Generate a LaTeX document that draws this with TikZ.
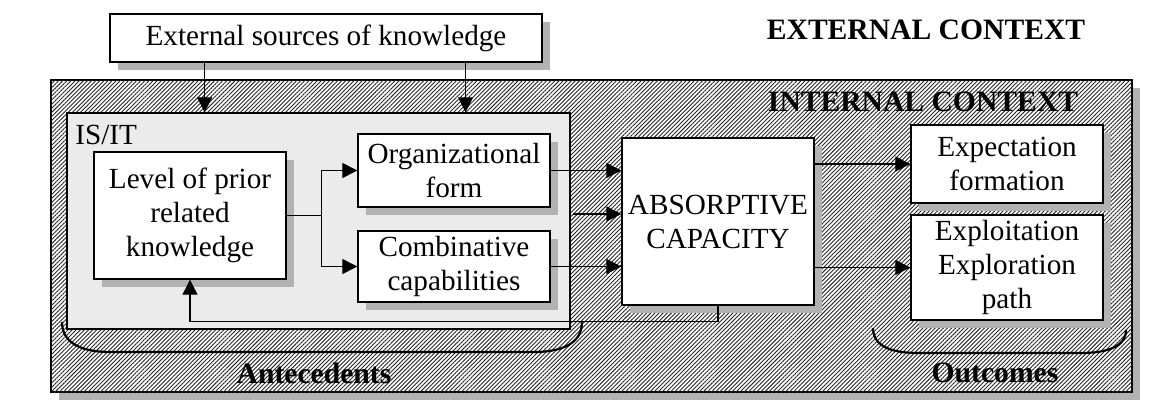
\documentclass[tikz,border=0pt]{standalone}
\usepackage{fontspec}
\setmainfont{Liberation Serif}
\usetikzlibrary{arrows.meta}
\usetikzlibrary{calc}
\usetikzlibrary{shadows}
\usetikzlibrary{patterns.meta}

\begin{document}
\begin{tikzpicture}[x=0.5pt, y=-0.5pt, line join=miter,
    box/.style={draw, line width=0.7pt, fill=white, align=center, inner sep=0pt,
        font=\fontsize{14.6}{17}\selectfont,
        drop shadow={shadow xshift=4pt, shadow yshift=-4pt, fill=black!30, opacity=1}},
    hatch/.style={postaction={pattern={Lines[angle=45,distance=1.45pt,line width=0.45pt]}, pattern color=black!85}},
    bold/.style={font=\bfseries\fontsize{14.8}{17}\selectfont, inner sep=0pt},
    arr/.style={-{Triangle[length=7.5pt,width=7.5pt]}, line width=0.6pt}]
    % absorptive capacity: antecedents and outcomes
    \useasboundingbox (0,0) rectangle (1149,402);

    \node[box, hatch, line width=0.9pt, minimum width=540.5pt, minimum height=156pt] (outer) at (591.5,236) {};
    \node[draw, line width=0.7pt, fill=black!8, minimum width=251.5pt, minimum height=108pt] (isit) at (318.5,221) {};

    \node[box, minimum width=216pt, minimum height=24pt] (ext) at (326,38) {External sources of knowledge};
    \node[box, minimum width=96pt, minimum height=63.5pt] (level) at (190,215.5) {Level of prior\\related\\knowledge};
    \node[box, minimum width=96pt, minimum height=36.5pt] (org) at (454,170.5) {Organizational\\form};
    \node[box, minimum width=96pt, minimum height=35.5pt] (comb) at (454,266.5) {Combinative\\capabilities};
    \node[box, minimum width=96pt, minimum height=83.5pt] (ac) at (718,221.5) {ABSORPTIVE\\CAPACITY};
    \node[box, minimum width=96pt, minimum height=39pt] (expf) at (1007,164) {Expectation\\formation};
    \node[box, minimum width=96pt, minimum height=52.5pt] (expl) at (1007,267.5) {Exploitation\\Exploration\\path};

    \node[bold] (extctx) at (926,30) {EXTERNAL CONTEXT};
    \node[bold] (intctx) at (923,102) {INTERNAL CONTEXT};
    \node[anchor=base west, inner sep=0pt, font=\fontsize{14.6}{17}\selectfont] (isitlbl) at (75,144) {IS/IT};
    \node[bold] (antlbl) at (314,373) {Antecedents};
    \node[bold] (outlbl) at (995,373) {Outcomes};

    \coordinate (d1) at ($(ext.south west)!0.22!(ext.south east)$);
    \coordinate (d2) at ($(ext.south west)!0.822!(ext.south east)$);
    \draw[arr] (d1) -- (d1 |- isit.north);
    \draw[arr] (d2) -- (d2 |- isit.north);

    \coordinate (br) at ($(level.east)+(35,0)$);
    \draw[line width=0.6pt] (level.east) -- (br);
    \draw[arr] (br) |- (org.west);
    \draw[arr] (br) |- (comb.west);

    \coordinate (mid) at (573,214);
    \draw[arr] (org.east) -- (org.east -| ac.west);
    \draw[arr] (mid) -- (mid -| ac.west);
    \draw[arr] (comb.east) -- (comb.east -| ac.west);
    \draw[arr] (expf.west -| ac.east) -- (expf.west);
    \draw[arr] (expl.west -| ac.east) -- (expl.west);
    \draw[arr] (ac.south) -- ++(0,15.5) -| (level.south);

    \draw[line width=1.1pt] (62,322) .. controls (62,345) and (85,352) .. (110,352) -- (534,352)
        .. controls (559,352) and (582,345) .. (582,322);
    \draw[line width=1.1pt] (873,328) .. controls (873,348) and (895,353) .. (918,353) -- (1081,353)
        .. controls (1104,353) and (1126,348) .. (1126,330);
\end{tikzpicture}
\end{document}
